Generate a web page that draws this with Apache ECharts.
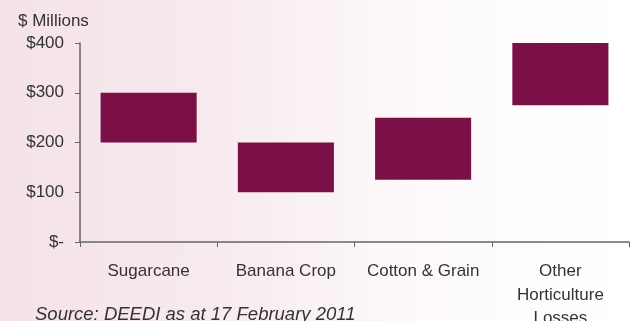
<!DOCTYPE html>
<html><head><meta charset="utf-8">
<script src="https://cdn.jsdelivr.net/npm/echarts@6/dist/echarts.min.js"></script>
<style>
html,body{margin:0;padding:0;}
#c{width:633px;height:321px;background:linear-gradient(to right,#f4e2e8 0%,#f7ebef 35%,#fdf9fa 65%,#ffffff 100%);}
</style></head>
<body><div id="c"></div>
<script>
const categories = ['Sugarcane', 'Banana Crop', 'Cotton & Grain', 'Other\nHorticulture\nLosses'];
const lowValues = [200, 100, 125, 275];
const highValues = [300, 200, 250, 400];
const yTicks = [0, 100, 200, 300, 400];

const chart = echarts.init(document.getElementById('c'), null, {renderer: 'canvas'});
const font = 'Liberation Sans, Arial, sans-serif';
chart.setOption({
  backgroundColor: 'transparent',
  animation: false,
  grid: {left: 80, right: 4, top: 43, bottom: 79, outerBoundsMode: 'none', containLabel: false},
  title: {
    text: '$ Millions', left: 13, top: 8,
    textStyle: {fontSize: 17, fontWeight: 'normal', color: '#333', fontFamily: font}
  },
  graphic: [{
    type: 'text', left: 35, top: 305,
    style: {text: 'Source: DEEDI as at 17 February 2011', font: 'italic 18.5px ' + font, fill: '#333'}
  }],
  xAxis: {
    type: 'category', data: categories,
    axisLine: {lineStyle: {color: '#666', width: 1.5}},
    axisTick: {show: true, length: 5, interval: 0, lineStyle: {color: '#666'}},
    axisLabel: {color: '#333', fontSize: 17, fontFamily: font, margin: 18, lineHeight: 23.5, interval: 0, hideOverlap: false}
  },
  yAxis: {
    type: 'value', min: 0, max: 400, interval: 100,
    splitLine: {show: false},
    axisLine: {show: true, lineStyle: {color: '#666', width: 1.5}},
    axisTick: {show: true, length: 5, lineStyle: {color: '#666'}},
    axisLabel: {
      color: '#333', fontSize: 17, fontFamily: font, margin: 16,
      formatter: v => v === 0 ? '$-' : '$' + v
    }
  },
  series: [
    {type: 'bar', stack: 'r', data: lowValues, barWidth: '70%',
     itemStyle: {color: 'transparent'}, silent: true},
    {type: 'bar', stack: 'r', data: highValues.map((h, i) => h - lowValues[i]), barWidth: '70%',
     itemStyle: {color: '#7b1046'}}
  ]
});
</script></body></html>
